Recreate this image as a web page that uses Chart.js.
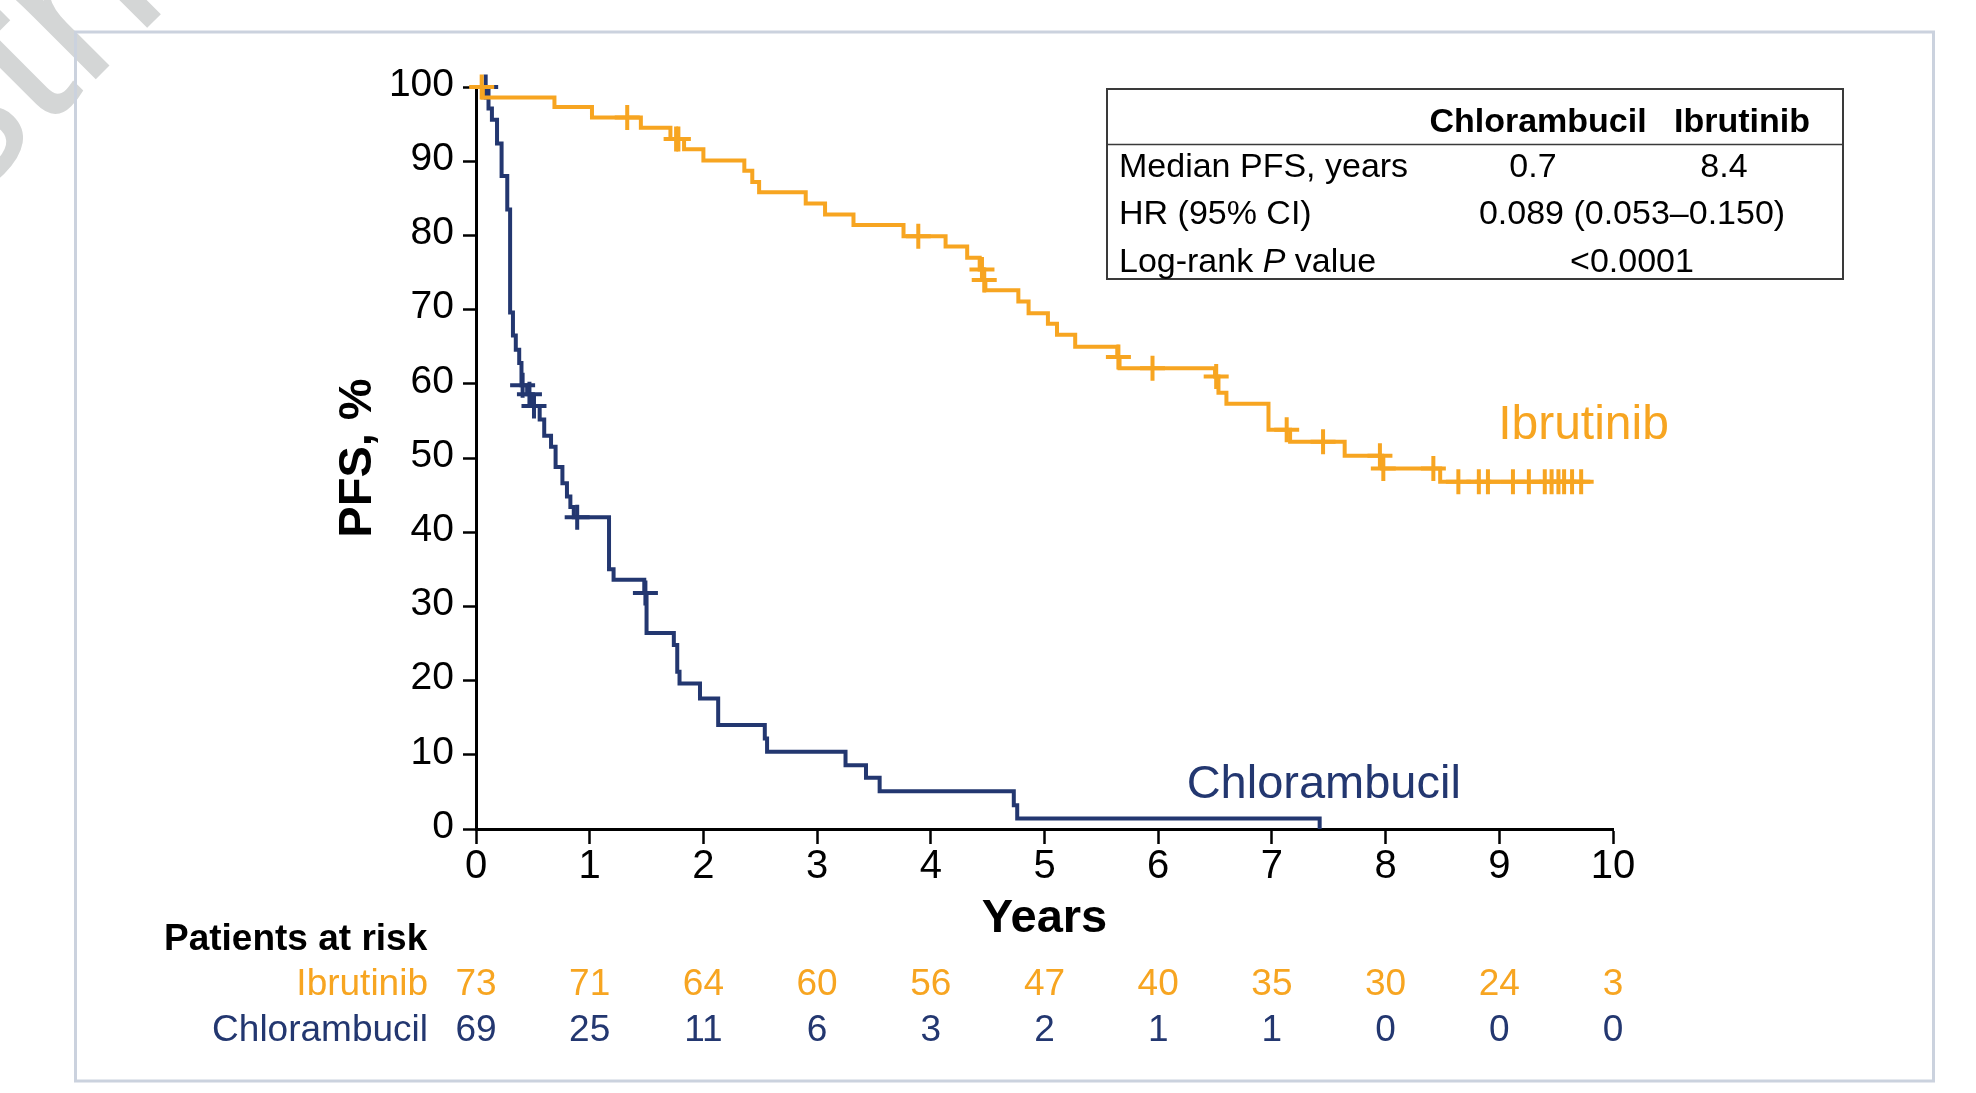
<!DOCTYPE html>
<html>
<head>
<meta charset="utf-8">
<script src="https://cdn.jsdelivr.net/npm/chart.js@4.4.1/dist/chart.umd.min.js"></script>
<style>
html,body{margin:0;padding:0;background:#ffffff;}
#wrap{width:1976px;height:1093px;position:relative;}
</style>
</head>
<body>
<div id="wrap"><canvas id="c" width="1976" height="1093"></canvas></div>
<script>
// ---------------- DATA ----------------
const xTickValues = [0,1,2,3,4,5,6,7,8,9,10];
const yTickValues = [0,10,20,30,40,50,60,70,80,90,100];

// Ibrutinib Kaplan-Meier steps (time in years, PFS %)
const ibrutinibTimes = [0,0.06,0.69,1.02,1.45,1.71,1.83,2.00,2.36,2.43,2.49,2.90,3.07,3.32,3.76,4.13,4.32,4.43,4.46,4.48,4.77,4.86,5.03,5.11,5.27,5.64,5.66,6.50,6.53,6.60,6.97,7.16,7.64,7.97,8.48,9.80];
const ibrutinibPFS   = [100,98.6,97.3,95.9,94.5,93.0,91.6,90.1,88.7,87.2,85.8,84.3,82.8,81.4,79.9,78.5,77.0,75.4,74.0,72.6,71.1,69.5,68.1,66.6,65.0,63.6,62.1,61.0,58.8,57.3,53.8,52.2,50.3,48.6,46.8,46.8];
const ibrutinibCensorTimes = [0.05,1.33,1.76,1.78,3.89,4.45,4.47,5.65,5.95,6.51,7.13,7.45,7.95,7.98,8.42,8.64,8.82,8.90,9.12,9.26,9.40,9.46,9.52,9.57,9.64,9.72];
const ibrutinibCensorPFS   = [100,95.9,93.0,93.0,79.9,75.4,74.0,63.6,62.1,61.0,53.8,52.2,50.3,48.6,48.6,46.8,46.8,46.8,46.8,46.8,46.8,46.8,46.8,46.8,46.8,46.8];

// Chlorambucil Kaplan-Meier steps
const chlorambucilTimes = [0,0.11,0.14,0.185,0.225,0.275,0.30,0.325,0.35,0.38,0.40,0.45,0.50,0.56,0.60,0.66,0.70,0.76,0.80,0.83,0.86,1.17,1.21,1.48,1.50,1.74,1.77,1.79,1.97,2.13,2.54,2.56,3.25,3.43,3.55,4.73,4.76,7.42];
const chlorambucilPFS   = [100,97.1,95.6,92.4,88.0,83.5,69.6,66.5,64.6,62.8,59.8,58.6,57.0,55.2,53.0,51.5,48.8,46.6,44.8,43.4,42.0,35.0,33.6,31.8,26.4,24.8,21.2,19.6,17.6,14.0,12.2,10.4,8.6,6.9,5.1,3.2,1.4,0];
const chlorambucilCensorTimes = [0.085,0.41,0.47,0.51,0.89,1.49];
const chlorambucilCensorPFS   = [100,59.8,58.6,57.0,42.0,31.8];

// Patients at risk
const riskYears = [0,1,2,3,4,5,6,7,8,9,10];
const riskIbrutinib = [73,71,64,60,56,47,40,35,30,24,3];
const riskChlorambucil = [69,25,11,6,3,2,1,1,0,0,0];

// Summary table
const statsColumns = ['Chlorambucil','Ibrutinib'];
const statsRowLabels = ['Median PFS, years','HR (95% CI)','Log-rank P value'];
const medianPFS = ['0.7','8.4'];
const hazardRatio = '0.089 (0.053\u20130.150)';
const logRankP = '<0.0001';

// ---------------- STYLE ----------------
const FONT = '"Liberation Sans", Arial, Helvetica, sans-serif';
const ORANGE = '#F7A521';
const NAVY = '#233770';

const pts = (xs, ys) => xs.map((x, i) => ({x: x, y: ys[i]}));

function txt(ctx, s, x, y, o) {
  ctx.save();
  ctx.font = (o.style || 'normal') + ' ' + (o.weight || 'normal') + ' ' + o.size + 'px ' + FONT;
  ctx.fillStyle = o.color || '#000';
  ctx.textAlign = o.align || 'left';
  ctx.textBaseline = 'alphabetic';
  ctx.fillText(s, x, y);
  ctx.restore();
}

const extras = {
  id: 'extras',
  beforeDraw(chart) {
    const ctx = chart.ctx;
    // watermark (mostly outside the page)
    ctx.save();
    ctx.translate(-183, 358);
    ctx.rotate(-45 * Math.PI / 180);
    ctx.font = 'normal 220px ' + FONT;
    ctx.fillStyle = '#D4D6D6';
    ctx.fillText('Distribution', 0, 0);
    ctx.restore();
    // frame
    ctx.save();
    ctx.strokeStyle = '#CBD2DE';
    ctx.lineWidth = 3;
    ctx.strokeRect(75.5, 32, 1858, 1049);
    ctx.restore();
  },
  afterDraw(chart) {
    const ctx = chart.ctx;
    const xs = chart.scales.x, ys = chart.scales.y;

    // curve labels
    txt(ctx, 'Ibrutinib', xs.getPixelForValue(8.99), ys.getPixelForValue(52.6), {size: 48, color: ORANGE});
    txt(ctx, 'Chlorambucil', xs.getPixelForValue(6.25), ys.getPixelForValue(4.2), {size: 47, color: NAVY});

    // patients at risk
    txt(ctx, 'Patients at risk', 164, 950, {size: 37, weight: 'bold'});
    txt(ctx, 'Ibrutinib', 428, 995, {size: 37, color: ORANGE, align: 'right'});
    txt(ctx, 'Chlorambucil', 428, 1041, {size: 37, color: NAVY, align: 'right'});
    riskYears.forEach((yr, i) => {
      const px = xs.getPixelForValue(yr);
      txt(ctx, String(riskIbrutinib[i]), px, 995, {size: 37, color: ORANGE, align: 'center'});
      txt(ctx, String(riskChlorambucil[i]), px, 1041, {size: 37, color: NAVY, align: 'center'});
    });

    // summary table
    ctx.save();
    ctx.strokeStyle = '#3a3a3a';
    ctx.lineWidth = 2;
    ctx.strokeRect(1107, 89, 736, 190);
    ctx.beginPath();
    ctx.moveTo(1107, 144.5); ctx.lineTo(1843, 144.5);
    ctx.lineWidth = 1.5;
    ctx.stroke();
    ctx.restore();
    const colC = [1538, 1742];
    const valC = [1533, 1724];
    const spanC = 1632;
    statsColumns.forEach((c, i) => txt(ctx, c, colC[i], 132, {size: 34, weight: 'bold', align: 'center'}));
    txt(ctx, statsRowLabels[0], 1119, 177, {size: 34});
    txt(ctx, statsRowLabels[1], 1119, 224, {size: 34});
    // "Log-rank P value" with italic P
    const parts = statsRowLabels[2].split(' P ');
    ctx.save();
    ctx.font = 'normal normal 34px ' + FONT;
    const w1 = ctx.measureText(parts[0] + ' ').width;
    ctx.font = 'italic normal 34px ' + FONT;
    const w2 = ctx.measureText('P').width;
    ctx.restore();
    txt(ctx, parts[0] + ' ', 1119, 272, {size: 34});
    txt(ctx, 'P', 1119 + w1, 272, {size: 34, style: 'italic'});
    txt(ctx, ' ' + parts[1], 1119 + w1 + w2, 272, {size: 34});
    medianPFS.forEach((v, i) => txt(ctx, v, valC[i], 177, {size: 34, align: 'center'}));
    txt(ctx, hazardRatio, spanC, 224, {size: 34, align: 'center'});
    txt(ctx, logRankP, spanC, 272, {size: 34, align: 'center'});
  }
};

Chart.defaults.font.family = FONT;
Chart.defaults.color = '#000';

new Chart(document.getElementById('c'), {
  type: 'line',
  data: {
    datasets: [
      {label: 'Chlorambucil', data: pts(chlorambucilTimes, chlorambucilPFS), stepped: 'before',
       borderColor: NAVY, borderWidth: 4, pointRadius: 0, fill: false, clip: false, order: 2},
      {label: 'Ibrutinib', data: pts(ibrutinibTimes, ibrutinibPFS), stepped: 'before',
       borderColor: ORANGE, borderWidth: 4, pointRadius: 0, fill: false, clip: false, order: 1},
      {label: 'Chlorambucil censored', data: pts(chlorambucilCensorTimes, chlorambucilCensorPFS), showLine: false,
       pointStyle: 'cross', pointRadius: 12.5, pointBorderWidth: 4, pointBorderColor: NAVY, pointBackgroundColor: NAVY,
       borderColor: NAVY, clip: false, order: 2},
      {label: 'Ibrutinib censored', data: pts(ibrutinibCensorTimes, ibrutinibCensorPFS), showLine: false,
       pointStyle: 'cross', pointRadius: 12.5, pointBorderWidth: 4, pointBorderColor: ORANGE, pointBackgroundColor: ORANGE,
       borderColor: ORANGE, clip: false, order: 1}
    ]
  },
  options: {
    responsive: false,
    animation: false,
    devicePixelRatio: 1,
    layout: {padding: {left: 0, right: 363, top: 87, bottom: 0}},
    plugins: {legend: {display: false}, tooltip: {enabled: false}},
    elements: {line: {borderCapStyle: 'butt', borderJoinStyle: 'miter'}},
    scales: {
      x: {
        type: 'linear', position: 'bottom', min: 0, max: 10,
        afterBuildTicks: s => { s.ticks = xTickValues.map(v => ({value: v})); },
        ticks: {color: '#000', font: {size: 40, lineHeight: 1}, padding: 3, maxRotation: 0, autoSkip: false},
        grid: {display: true, drawOnChartArea: false, drawTicks: true, tickLength: 15, tickWidth: 2.5, tickColor: '#000'},
        border: {display: true, color: '#000', width: 3},
        title: {display: true, text: 'Years', color: '#000', font: {size: 47, weight: 'bold', lineHeight: 1}, padding: {top: 0, bottom: 150}},
        afterFit: s => { s.height = 264; }
      },
      y: {
        type: 'linear', position: 'left', min: 0, max: 100,
        afterBuildTicks: s => { s.ticks = yTickValues.map(v => ({value: v})); },
        ticks: {color: '#000', font: {size: 39}, padding: 9, labelOffset: -2, autoSkip: false},
        grid: {display: true, drawOnChartArea: false, drawTicks: true, tickLength: 13, tickWidth: 2.5, tickColor: '#000'},
        border: {display: true, color: '#000', width: 3},
        title: {display: true, text: 'PFS, %', color: '#000', font: {size: 47, weight: 'bold', lineHeight: 1}, padding: {top: 335, bottom: 0}},
        afterFit: s => { s.width = 476; }
      }
    }
  },
  plugins: [extras]
});
</script>
</body>
</html>
